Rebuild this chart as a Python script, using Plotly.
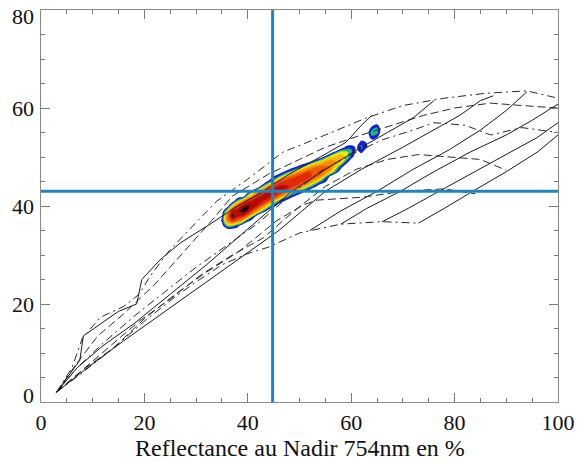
import plotly.graph_objects as go

# ---- reference crosshair ----
vline_x = 44.8
hline_y = 43.0

# ---- axis ticks ----
x_ticks = [0, 20, 40, 60, 80, 100]
y_ticks = [0, 20, 40, 60, 80]
x_title = "Reflectance au Nadir 754nm en %"

# ---- iso-curves (dashed / dash-dot), bottom to top ----
curve_x = [
    [3, 8, 14, 20, 26, 30, 35, 40, 44, 50, 58, 66, 73],
    [3, 8, 14, 20, 26, 32, 38, 45.6, 50.7, 53.4, 62.3, 70, 78, 84],
    [3, 8, 13, 19, 25, 31, 37, 43, 49, 55, 61, 67, 73, 79, 85, 90],
    [3, 7, 12, 18, 24, 30, 36, 42, 48, 54, 60, 66, 72, 76, 82, 87, 93, 100],
    [3, 7, 11, 16, 22, 28, 33, 37, 40, 44, 50, 55, 62, 68, 74, 80, 87, 93, 100],
    [3, 6, 8, 11.5, 16, 19, 21, 24.5, 28.5, 34, 40, 46.8, 55, 63, 70, 78, 86, 94, 100],
]
curve_y = [
    [2, 6, 11, 16.5, 21.5, 24.5, 28, 30.3, 31.6, 34.5, 36.3, 36.8, 36.5],
    [2, 6.5, 11, 17, 22, 26.5, 30.5, 37, 40.2, 41.2, 41.8, 43, 43.5, 42.5],
    [2, 6.5, 11, 16.5, 21, 26, 30, 33.5, 39, 44, 47.5, 49.5, 50.5, 50, 49.5, 47.3],
    [2, 7, 12, 17.5, 22.5, 27.5, 32, 36.5, 42, 47, 50.5, 53.5, 55.5, 57, 56.5, 54.5, 56, 55],
    [2, 8, 13.5, 18, 24, 31, 37, 42, 44, 46.5, 49.5, 52, 54.5, 56.5, 58.5, 60, 61, 60.5, 60],
    [2, 7, 13, 17.3, 19.5, 22, 25.5, 30.5, 35, 41, 45.5, 51, 54.5, 58, 60.5, 62, 63, 63.5, 62],
]
curve_dash = ["8px,4px,2px,4px", "8px,4px", "8px,4px", "8px,4px,2px,4px",
              "8px,4px", "8px,4px,2px,4px"]

# ---- solid lines ----
solid_x = [
    [3, 5, 7.5, 8.2, 11, 15, 18.5, 19.5, 23, 27, 33, 38, 43, 48, 54, 59, 62, 64],
    [3, 7, 12, 18, 25, 32, 38, 43, 48.5, 55, 62, 67, 72, 76],
    [3, 9, 16, 24, 32, 40, 46, 55, 62, 70, 76, 81, 85, 87.5],
    [52, 58, 65, 72, 79, 85, 90, 94],
    [58, 63, 69.5, 76, 83, 90, 95, 100],
    [66, 71, 77, 84, 91, 96, 100],
    [73, 78, 83.5, 90, 96, 100],
]
solid_y = [
    [2, 5, 8.5, 13.5, 15.5, 18.5, 20, 25, 29, 32.5, 36.5, 40, 43, 46.5, 50, 53, 56.5, 58.5],
    [2, 7, 11.5, 16, 22, 28, 33.5, 38, 43, 47.5, 52, 55, 58, 61.5],
    [2, 7, 12.5, 18.5, 24.5, 30.5, 35, 43, 47.5, 52, 55.5, 58.5, 61.5, 62.5],
    [35, 39, 43, 47.5, 51.5, 55.5, 59.5, 63.3],
    [36.3, 39.5, 43, 47, 51, 54.5, 57.5, 60.8],
    [36.8, 39.5, 43, 47, 51, 54, 57],
    [36.5, 39.5, 43, 47, 51, 54.5],
]

# ---- point density: column x, first row y, values upward in steps of 1 ----
dens_x = [34, 35, 36, 37, 38, 39, 40, 42, 44, 46, 48, 50, 52, 54, 56, 58, 59, 60,
          61, 62, 63, 64, 65, 66]
dens_y0 = [36, 36, 36, 36, 36, 37, 37, 39, 40, 41, 42, 43, 44, 45, 46, 48, 49, 50,
           51, 51, 52, 53, 54, 55]
dens_vals = [
    [0],
    [0.5, 1.2, 0.9],
    [2.8, 5.6, 5.8, 3.6],
    [2.8, 7.6, 9.4, 8.2, 4.0],
    [1.7, 6.2, 8.5, 8.7, 6.8, 2.8],
    [4.5, 8.1, 9.5, 8.6, 5.4],
    [1.3, 6.2, 8.9, 9.3, 7.5, 3.5],
    [4.7, 7.8, 8.9, 7.8, 4.7],
    [3.3, 7.0, 8.7, 8.3, 5.8, 1.2],
    [2.2, 6.4, 8.4, 8.4, 6.4, 2.2],
    [2.1, 6.0, 8.0, 8.0, 6.0, 2.1],
    [2.5, 6.0, 7.7, 7.5, 5.4, 1.5],
    [2.7, 5.9, 7.3, 7.0, 4.9, 1.0],
    [2.4, 5.6, 7.0, 6.4, 3.9],
    [0.5, 4.3, 6.0, 5.8, 3.7],
    [1.6, 4.2, 4.8, 3.4],
    [1.8, 3.5, 3.3, 1.3],
    [1.6, 2.5, 1.6],
    [0.6, 0.8],
    [1.3, 2.3, 1.6],
    [1.2, 0.9],
    [0.2, 1.6, 2.8, 1.3],
    [1.0, 2.4, 2.0, 0.5],
    [0],
]
dens_ymin, dens_ymax = 33, 58

band_colors = ["rgba(255,255,255,0)", "#1020e0", "#20b878", "#f4e800", "#fbb800",
               "#f88a00", "#f05a00", "#e02a08", "#b40c04", "#2a0000"]

# density table for the contour trace
grid_y = list(range(dens_ymin, dens_ymax + 1))
z = [[0.0] * len(dens_x) for _ in grid_y]
for j, (y0, vals) in enumerate(zip(dens_y0, dens_vals)):
    for k, v in enumerate(vals):
        z[y0 + k - dens_ymin][j] = v

n = len(band_colors)
colorscale = []
for i, c in enumerate(band_colors):
    colorscale.append([i / n, c])
    colorscale.append([(i + 1) / n, c])

fig = go.Figure()
fig.add_trace(go.Contour(
    x=dens_x, y=grid_y, z=z,
    zmin=0, zmax=n,
    colorscale=colorscale, showscale=False,
    contours=dict(start=1, end=n - 1, size=1, coloring="fill", showlines=False),
    line=dict(width=0, smoothing=1.0),
    hoverinfo="skip",
))

for xs, ys, d in zip(curve_x, curve_y, curve_dash):
    fig.add_trace(go.Scatter(x=xs, y=ys, mode="lines",
                             line=dict(color="#2a2a2a", width=1, dash=d),
                             hoverinfo="skip"))
for xs, ys in zip(solid_x, solid_y):
    fig.add_trace(go.Scatter(x=xs, y=ys, mode="lines",
                             line=dict(color="#1a1a1a", width=1),
                             hoverinfo="skip"))

fig.add_vline(x=vline_x, line=dict(color="#1d85c0", width=3))
fig.add_hline(y=hline_y, line=dict(color="#1d85c0", width=3))

serif = "Liberation Serif, Times New Roman, DejaVu Serif, serif"
font_ticks = dict(family=serif, size=22, color="#111111")
axis_common = dict(
    showgrid=False, zeroline=False, showline=True, linecolor="#8a8a8a", linewidth=1,
    mirror="ticks", ticks="inside", ticklen=9, tickwidth=1, tickcolor="#7a7a7a",
    tickfont=font_ticks,
    minor=dict(dtick=5, tick0=0, ticks="inside", ticklen=4, tickwidth=1,
               tickcolor="#7a7a7a", showgrid=False),
)
fig.update_xaxes(range=[0, 100], tickvals=x_ticks, ticklabelstandoff=1, **axis_common)
fig.update_yaxes(range=[0, 80], tickvals=y_ticks, showticklabels=False, **axis_common)

# y tick labels: end labels are pulled inside the frame
for v in y_ticks:
    shift = 7 if v == y_ticks[0] else (-6 if v == y_ticks[-1] else 0)
    fig.add_annotation(x=0, xref="paper", y=v, yref="y", text=str(v),
                       showarrow=False, xanchor="right", yanchor="middle",
                       xshift=-5, yshift=shift, font=font_ticks)

fig.add_annotation(x=0.5, xref="paper", y=0, yref="paper", text=x_title,
                   showarrow=False, xanchor="center", yanchor="top", yshift=-32,
                   borderpad=0, font=dict(family=serif, size=24, color="#111111"))

fig.update_layout(
    width=579, height=462,
    margin=dict(l=41, r=21, t=10, b=60, autoexpand=False),
    paper_bgcolor="white", plot_bgcolor="white",
    showlegend=False,
)

fig.write_html("out.html")
